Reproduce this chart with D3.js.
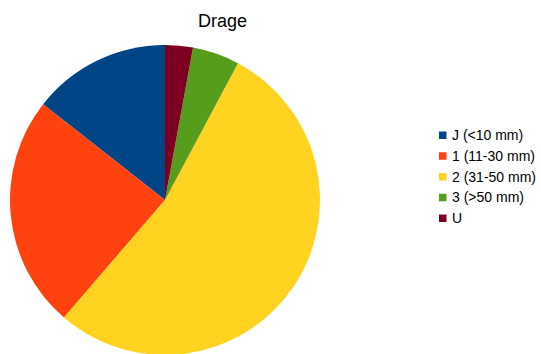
<!DOCTYPE html>
<html><head><meta charset="utf-8">
<script src="https://cdn.jsdelivr.net/npm/d3@7"></script>
<style>body{margin:0;background:#fff}svg{display:block}</style>
</head><body>
<svg id="c" width="541" height="354"></svg>
<script>
const categories = ["J (<10 mm)", "1 (11-30 mm)", "2 (31-50 mm)", "3 (>50 mm)", "U"];
const values = [14.4, 24.3, 53.5, 4.9, 2.9];
const colors = ["#004586", "#ff420e", "#ffd320", "#579d1c", "#7e0021"];
const title = "Drage";

const svg = d3.select("#c");
const font = "'Liberation Sans', Arial, sans-serif";
svg.append("text").attr("x", 222.5).attr("y", 27).attr("text-anchor", "middle")
  .attr("font-family", font).attr("font-size", 18).attr("fill", "#000").text(title);

const cx = 165, cy = 200, r = 155;
const pie = d3.pie().sort(null).startAngle(0).endAngle(-2 * Math.PI);
const arc = d3.arc().innerRadius(0).outerRadius(r);
const color = d3.scaleOrdinal().domain(categories).range(colors);
const data = categories.map((c, i) => ({c, v: values[i]}));
svg.append("g").attr("transform", `translate(${cx},${cy})`)
  .selectAll("path").data(pie.value(d => d.v)(data)).join("path")
  .attr("d", arc).attr("fill", d => color(d.data.c));

const ly = d3.scalePoint().domain(categories).range([135, 218]);
const lg = svg.append("g");
lg.selectAll("rect").data(categories).join("rect")
  .attr("x", 439).attr("y", d => ly(d) - 3.5).attr("width", 7.5).attr("height", 7.5)
  .attr("fill", d => color(d));
lg.selectAll("text").data(categories).join("text")
  .attr("x", 452).attr("y", d => ly(d) + 5)
  .attr("font-family", font).attr("font-size", 14).attr("fill", "#000").text(d => d);
</script>
</body></html>
